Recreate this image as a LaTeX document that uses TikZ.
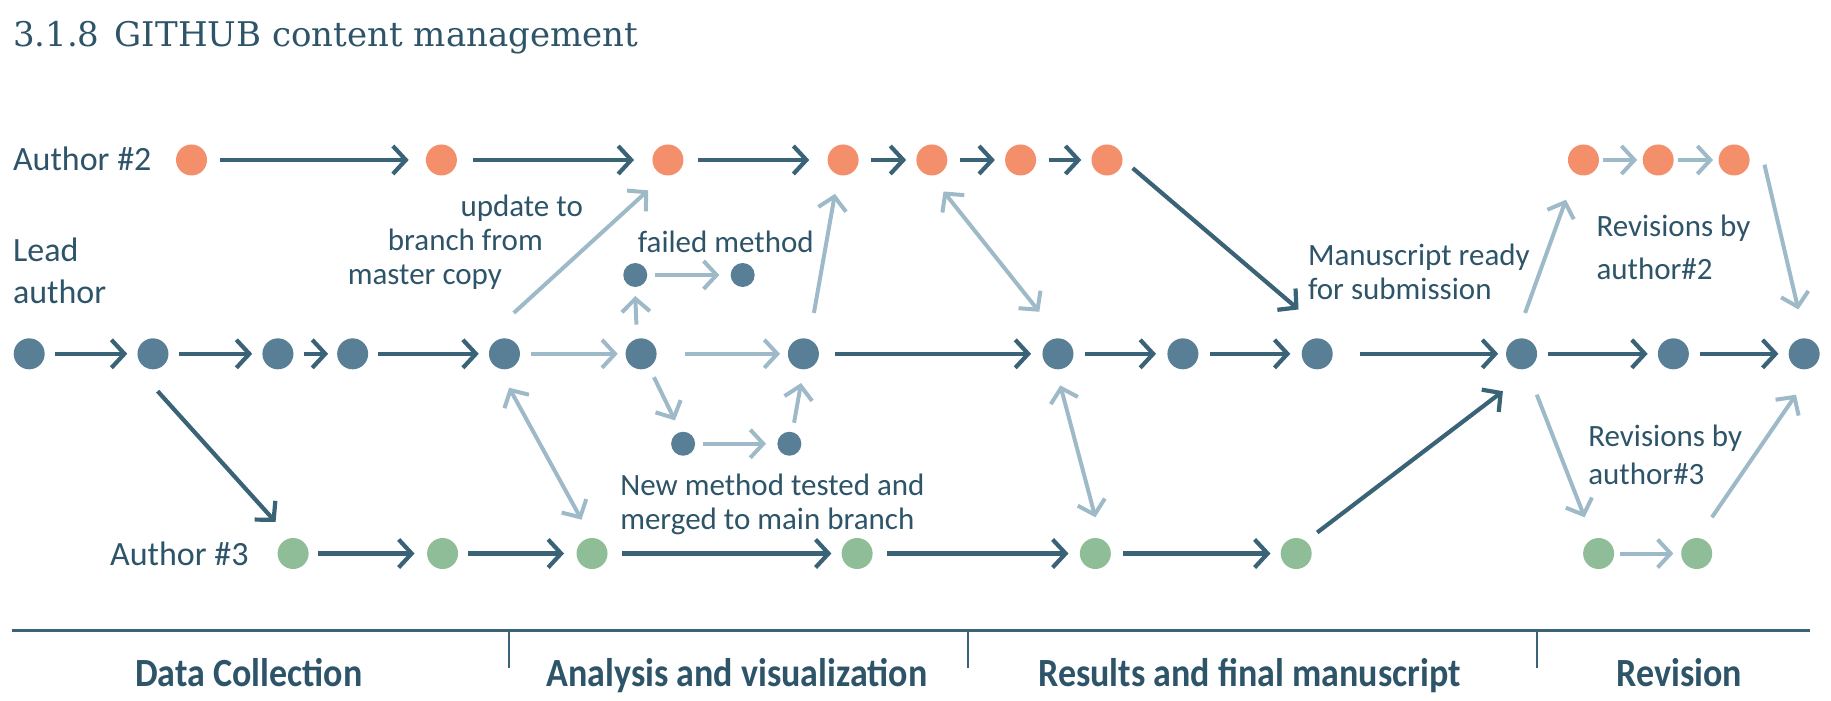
\documentclass[tikz,border=0pt]{standalone}
\usepackage{fontspec}
\setmainfont{Carlito}
\newfontfamily\titlefont{DejaVu Serif}
\newfontfamily\phasefont[FakeStretch=0.9]{Carlito Bold}
\usetikzlibrary{arrows.meta,calc}
\definecolor{txt}{HTML}{2D5468}
\definecolor{dkc}{HTML}{3A6378}
\definecolor{ltc}{HTML}{9EBAC9}
\definecolor{orgc}{HTML}{F48F6C}
\definecolor{ledc}{HTML}{597F96}
\definecolor{grnc}{HTML}{8EBD97}
\newcommand\harr[5]{\draw[#1] ($(#2)+(#3,0)$) -- ($(#4)+(#5,0)$);}
\newcommand\twolines[3]{\vtop{\baselineskip=#1\hbox{#2}\hbox{#3}}}
\begin{document}
\begin{tikzpicture}[x=1.1677pt,y=-1.1677pt,
 dotnode/.style={circle, minimum size=31pt, inner sep=0pt, fill=#1},
 od/.style={dotnode=orgc}, ld/.style={dotnode=ledc}, gd/.style={dotnode=grnc},
 sd/.style={circle, minimum size=24pt, inner sep=0pt, fill=ledc},
 dkarr/.style={draw=dkc, line width=4.2pt, -{Straight Barb[length=13pt,width=28pt]}},
 ltarr/.style={draw=ltc, line width=4pt, -{Straight Barb[length=13pt,width=28pt]}},
 ltdbl/.style={draw=ltc, line width=4pt, {Straight Barb[length=13pt,width=28pt]}-{Straight Barb[length=13pt,width=28pt]}},
 lbl/.style={font=\fontsize{31}{34}\selectfont, text=txt, inner sep=0pt},
 rowlbl/.style={font=\fontsize{34}{42}\selectfont, text=txt, inner sep=0pt},
 phase/.style={font=\phasefont\fontsize{40}{44}\selectfont, text=txt, inner sep=0pt, anchor=base}]
\useasboundingbox (0,0) rectangle (1568,599.47);
% title
\node[anchor=base west, font=\titlefont\fontsize{34}{40}\selectfont, text=txt, inner sep=0pt] (title) at (11,39.5) {3.1.8\hspace{0.45em}GITHUB content management};
% row labels
\node[rowlbl, anchor=base west] (lab2) at (11,145.6) {Author \#2};
\node[rowlbl, anchor=base west] (labL) at (11,224) {\twolines{41.6pt}{Lead}{author}};
\node[rowlbl, anchor=base east] (lab3) at (213,484) {Author \#3};
% author 2 row
\node[od] (a1) at (164,137) {};
\node[od] (a2) at (378,137) {};
\node[od] (a3) at (572,137) {};
\node[od] (a4) at (722,137) {};
\node[od] (a5) at (798,137) {};
\node[od] (a6) at (874,137) {};
\node[od] (a7) at (948,137) {};
\node[od] (r1) at (1356,137) {};
\node[od] (r2) at (1420,137) {};
\node[od] (r3) at (1485,137) {};
% lead row
\node[ld] (l1) at (25,303) {};
\node[ld] (l2) at (131,303) {};
\node[ld] (l3) at (238,303) {};
\node[ld] (l4) at (302,303) {};
\node[ld] (l5) at (432,303) {};
\node[ld] (l6) at (549,303) {};
\node[ld] (l7) at (688,303) {};
\node[ld] (l8) at (906,303) {};
\node[ld] (l9) at (1013,303) {};
\node[ld] (l10) at (1128,303) {};
\node[ld] (l11) at (1303,303) {};
\node[ld] (l12) at (1433,303) {};
\node[ld] (l13) at (1545,303) {};
% sub branches
\node[sd] (f1) at (544,235.5) {};
\node[sd] (f2) at (636,235.5) {};
\node[sd] (n1) at (585,380) {};
\node[sd] (n2) at (676,380) {};
% author 3 row
\node[gd] (c1) at (251,474) {};
\node[gd] (c2) at (379,474) {};
\node[gd] (c3) at (507,474) {};
\node[gd] (c4) at (734,474) {};
\node[gd] (c5) at (938,474) {};
\node[gd] (c6) at (1110,474) {};
\node[gd] (s1) at (1369,474) {};
\node[gd] (s2) at (1453,474) {};
% horizontal arrows author 2
\harr{dkarr}{a1}{24}{a2}{-28}
\harr{dkarr}{a2}{27}{a3}{-29}
\harr{dkarr}{a3}{26}{a4}{-29}
\harr{dkarr}{a4}{24}{a5}{-22}
\harr{dkarr}{a5}{24}{a6}{-22}
\harr{dkarr}{a6}{24}{a7}{-22}
\harr{ltarr}{r1}{17}{r2}{-18}
\harr{ltarr}{r2}{17}{r3}{-18}
% lead row
\harr{dkarr}{l1}{22}{l2}{-22}
\harr{dkarr}{l2}{22}{l3}{-22}
\harr{dkarr}{l3}{22}{l4}{-21}
\harr{dkarr}{l4}{22}{l5}{-22}
\harr{ltarr}{l5}{23}{l6}{-20}
\harr{ltarr}{l6}{38}{l7}{-20}
\harr{dkarr}{l7}{27}{l8}{-23}
\harr{dkarr}{l8}{23}{l9}{-23}
\harr{dkarr}{l9}{23}{l10}{-23}
\harr{dkarr}{l10}{37}{l11}{-20}
\harr{dkarr}{l11}{23}{l12}{-22}
\harr{dkarr}{l12}{23}{l13}{-22}
% sub rows
\harr{ltarr}{f1}{17}{f2}{-20}
\harr{ltarr}{n1}{17}{n2}{-20}
\harr{ltarr}{s1}{18}{s2}{-20}
% author 3 row
\harr{dkarr}{c1}{21}{c2}{-24}
\harr{dkarr}{c2}{22}{c3}{-24}
\harr{dkarr}{c3}{26}{c4}{-22}
\harr{dkarr}{c4}{26}{c5}{-23}
\harr{dkarr}{c5}{24}{c6}{-22}
% diagonal arrows
\draw[dkarr] ($(a7)+(22,7)$) -- ($(l10)+(-16,-38)$);
\draw[ltarr] ($(l5)+(8,-35)$) -- ($(a3)+(-17,26)$);
\draw[ltarr] ($(l6)+(-4,-25)$) -- ($(f1)+(0,18)$);
\draw[ltarr] ($(l6)+(11,20)$) -- ($(n1)+(-7,-20)$);
\draw[ltarr] ($(n2)+(4,-18)$) -- ($(l7)+(-2,25)$);
\draw[ltarr] ($(l7)+(9,-35)$) -- ($(a4)+(-7,29)$);
\draw[ltdbl] ($(a5)+(10,27)$) -- ($(l8)+(-16,-36)$);
\draw[dkarr] ($(l2)+(4,32)$) -- ($(c1)+(-15,-27)$);
\draw[ltdbl] ($(l5)+(4,29)$) -- ($(c3)+(-9,-29)$);
\draw[ltdbl] ($(l8)+(2,27)$) -- ($(c5)+(0,-31)$);
\draw[dkarr] ($(c6)+(18,-18)$) -- ($(l11)+(-16,32)$);
\draw[ltarr] ($(l11)+(3,-35)$) -- ($(r1)+(-15,34)$);
\draw[ltarr] ($(r3)+(26,4)$) -- ($(l13)+(-5,-38)$);
\draw[ltarr] ($(l11)+(13,35)$) -- ($(s1)+(-12,-31)$);
\draw[ltarr] ($(s2)+(13,-31)$) -- ($(l13)+(-7,35)$);
% labels
\node[lbl, anchor=base east] (upd) at (499.3,185) {\vtop{\baselineskip=34pt
  \hbox to 260pt{\hfill update to}%
  \hbox to 260pt{\hfill branch from\kern40pt}%
  \hbox to 260pt{\hfill master copy\kern81pt}}};
\node[lbl, anchor=base west] (fail) at (546,216) {failed method};
\node[lbl, anchor=base west] (newm) at (531,424) {\twolines{34pt}{New method tested and}{merged to main branch}};
\node[lbl, anchor=base west] (manu) at (1120,227) {\twolines{34pt}{Manuscript ready}{for submission}};
\node[lbl, anchor=base west] (rev2) at (1367,202.7) {\twolines{43pt}{Revisions by}{author\#2}};
\node[lbl, anchor=base west] (rev3) at (1360,382.5) {\twolines{38pt}{Revisions by}{author\#3}};
% phase bar
\draw[draw=dkc, line width=3pt] (10,540) -- (1550,540);
\draw[draw=dkc, line width=1.6pt] (436,540) -- (436,572);
\draw[draw=dkc, line width=1.6pt] (829,540) -- (829,572);
\draw[draw=dkc, line width=1.6pt] (1316,540) -- (1316,572);
\node[phase] (ph1) at (213,588) {Data Collection};
\node[phase] (ph2) at (631,588) {Analysis and visualization};
\node[phase] (ph3) at (1070,588) {Results and final manuscript};
\node[phase] (ph4) at (1438,588) {Revision};
\end{tikzpicture}
\end{document}
